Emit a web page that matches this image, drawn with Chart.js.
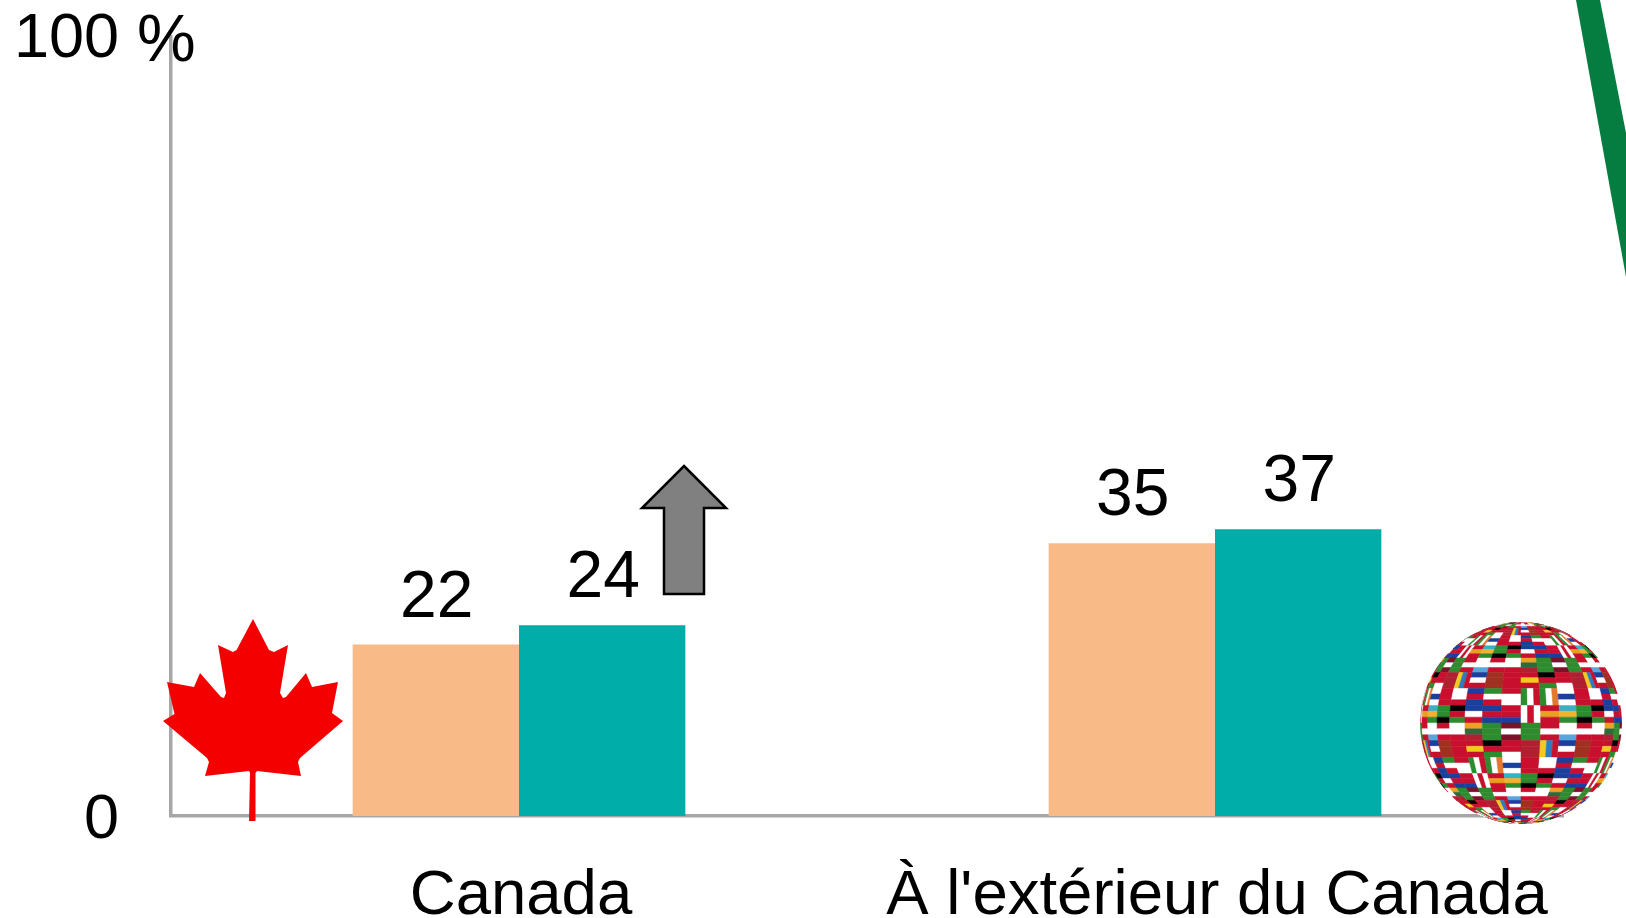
<!DOCTYPE html>
<html>
<head>
<meta charset="utf-8">
<script src="https://cdn.jsdelivr.net/npm/chart.js@4/dist/chart.umd.min.js"></script>
<style>
  html, body { margin: 0; background: #fff; }
  canvas { display: block; }
</style>
</head>
<body>
<canvas id="chartCanvas" width="1626" height="918"></canvas>
<script>
const categories = ['Canada', "À l'extérieur du Canada"];
const firstValues = [22, 35];
const secondValues = [24.49, 36.8];
const yMin = 0;
const yMax = 100;

const FONT = '"Liberation Sans", Arial, sans-serif';
const leafOutline = [
  [253,619],[269,650],[274,652],[288,645],[280,693],[283,698],[286,697],[306,673],[312,687],
  [338,682],[332,713],[343,721],[300,758],[298,762],[301,776],[257,771],[255.5,773],[255.5,821],
  [249,821],[250,773],[249,771],[205,776],[209,762],[207,758],[163,721],[174.5,714],[167,682],
  [194,687],[200,673],[221,697],[224,698],[226,693],[218,645],[233,652],[236.5,650]
];
const arrowOutline = [[684,466],[726,508],[704,508],[704,594],[664,594],[664,508],[642,508]];
const greenStroke = [[1576,0],[1600,0],[1626,133],[1626,277]];

// simplified flags for the globe, 4 rows of 8, [direction, colours]
const RED = '#c8102e', WHT = '#ffffff', BLU = '#1a3f9c', GRN = '#2e8b2e', YEL = '#f4c81e', BLK = '#000000';
const flags = [
  [['h', [WHT, WHT, RED]], ['h', [BLU, RED, BLU]], ['h', [GRN, WHT, RED]], ['h', [RED, WHT, WHT]],
   ['v', [GRN, WHT, RED]], ['v', [GRN, WHT, '#e8762c']], ['h', [WHT, BLU, WHT]], ['h', [RED, RED, RED]]],
  [['h', [BLK, RED, GRN]], ['h', [BLU, WHT, RED]], ['h', [BLU, RED, BLU]], ['h', [RED, RED, BLU]],
   ['v', [WHT, RED, WHT]], ['h', [RED, '#e8a020', RED]], ['h', ['#38b0c8', '#f4b030', GRN]], ['h', [GRN, GRN, BLK]]],
  [['h', [WHT, WHT, RED]], ['h', ['#f0a020', '#2e6b3a', '#b02030']], ['h', [GRN, GRN, GRN]], ['h', ['#7d1128', WHT, '#7d1128']],
   ['h', [GRN, GRN, GRN]], ['h', [RED, WHT, RED]], ['h', [WHT, WHT, '#58a6dc']], ['h', [RED, WHT, RED]]],
  [['h', [RED, RED, RED]], ['h', [RED, YEL, RED]], ['h', [BLK, RED, GRN]], ['h', [RED, RED, WHT]],
   ['h', ['#b02030', '#b02030', '#b02030']], ['v', [YEL, '#2e7bc0', RED]], ['h', [BLU, WHT, RED]], ['h', ['#a03020', '#a03020', '#a03020']]]
];

function polygon(ctx, points) {
  ctx.beginPath();
  points.forEach((p, i) => i ? ctx.lineTo(p[0], p[1]) : ctx.moveTo(p[0], p[1]));
  ctx.closePath();
}

function drawGlobe(ctx, cx, cy, r) {
  const project = (lat, lon) => {
    const a = lat * Math.PI / 180, b = lon * Math.PI / 180;
    return [cx + r * Math.cos(a) * Math.sin(b), cy - r * Math.sin(a)];
  };
  const rows = 18, cols = 16;
  ctx.save();
  ctx.beginPath();
  ctx.arc(cx, cy, r, 0, Math.PI * 2);
  ctx.clip();
  ctx.fillStyle = '#ffffff';
  ctx.fillRect(cx - r, cy - r, r * 2, r * 2);
  ctx.lineWidth = 0.5;
  for (let row = 0; row < rows; row++) {
    for (let col = 0; col < cols; col++) {
      // rows 7-10 and columns 4-11 are the visible middle of the globe
      const shift = 3 * Math.floor((row - 7) / 4);
      const flag = flags[(row + 13) % 4][(col + 4 + shift + 80) % 8];
      const lat0 = 90 - row * 10, lon0 = -90 + col * 180 / cols;
      for (let s = 0; s < 3; s++) {
        let cell;
        if (flag[0] === 'h') {
          const a = lat0 - s * 10 / 3, b = a - 10 / 3, w = 180 / cols;
          cell = [project(a, lon0), project(a, lon0 + w / 2), project(a, lon0 + w), project(b, lon0 + w), project(b, lon0 + w / 2), project(b, lon0)];
        } else {
          const w = 180 / cols / 3, a = lon0 + s * w, b = a + w;
          cell = [project(lat0, a), project(lat0, b), project(lat0 - 10, b), project(lat0 - 10, a)];
        }
        ctx.fillStyle = ctx.strokeStyle = flag[1][s];
        polygon(ctx, cell);
        ctx.fill();
        ctx.stroke();
      }
    }
  }
  ctx.restore();
}

const decorations = {
  id: 'decorations',
  afterDatasetsDraw(chart) {
    const ctx = chart.ctx;
    ctx.save();

    // value labels above the bars
    ctx.fillStyle = '#000';
    ctx.font = '66px ' + FONT;
    ctx.textAlign = 'center';
    ctx.textBaseline = 'alphabetic';
    chart.data.datasets.forEach((ds, i) => {
      chart.getDatasetMeta(i).data.forEach((bar, j) => {
        ctx.fillText(Math.round(ds.data[j]), bar.x + 1, bar.y - 28);
      });
    });

    // percent sign next to the top tick
    ctx.textAlign = 'left';
    ctx.fillText('%', 137, chart.scales.y.getPixelForValue(yMax) + 24);

    polygon(ctx, arrowOutline);
    ctx.fillStyle = '#808080';
    ctx.fill();
    ctx.strokeStyle = '#000';
    ctx.lineWidth = 2.5;
    ctx.stroke();

    polygon(ctx, leafOutline);
    ctx.fillStyle = '#f50000';
    ctx.fill();

    polygon(ctx, greenStroke);
    ctx.fillStyle = '#057d40';
    ctx.fill();

    drawGlobe(ctx, 1521, 723, 101);
    ctx.restore();
  }
};

new Chart(document.getElementById('chartCanvas').getContext('2d'), {
  type: 'bar',
  data: {
    labels: categories,
    datasets: [
      { data: firstValues, backgroundColor: '#f8ba86', barPercentage: 1, categoryPercentage: 0.478 },
      { data: secondValues, backgroundColor: '#00ada9', barPercentage: 1, categoryPercentage: 0.478 }
    ]
  },
  options: {
    responsive: false,
    animation: false,
    layout: { padding: { top: 37, right: 63, left: 0, bottom: 0 } },
    plugins: { legend: { display: false }, tooltip: { enabled: false } },
    scales: {
      x: {
        grid: { display: false, drawTicks: false },
        border: { color: '#a6a6a6', width: 3.5 },
        ticks: { color: '#000', font: { family: FONT, size: 63.5 }, padding: 42, labelOffset: 2, maxRotation: 0, autoSkip: false },
        afterFit(scale) { scale.height = 102; scale.paddingLeft = 0; scale.paddingRight = 0; }
      },
      y: {
        min: yMin,
        max: yMax,
        grid: { display: false, drawTicks: false },
        border: { color: '#a6a6a6', width: 3.5 },
        ticks: {
          stepSize: 100,
          color: '#000',
          // the blank second line lifts the top label a little
          callback: v => v === yMax ? [v, ''] : v,
          font: c => ({ family: FONT, size: 63, lineHeight: c.tick && c.tick.value === yMax ? 0.08 : 1.2 }),
          padding: 52,
          labelOffset: 5
        },
        afterFit(scale) { scale.width = 171; scale.paddingTop = 0; scale.paddingBottom = 0; }
      }
    }
  },
  plugins: [decorations]
});
</script>
</body>
</html>
